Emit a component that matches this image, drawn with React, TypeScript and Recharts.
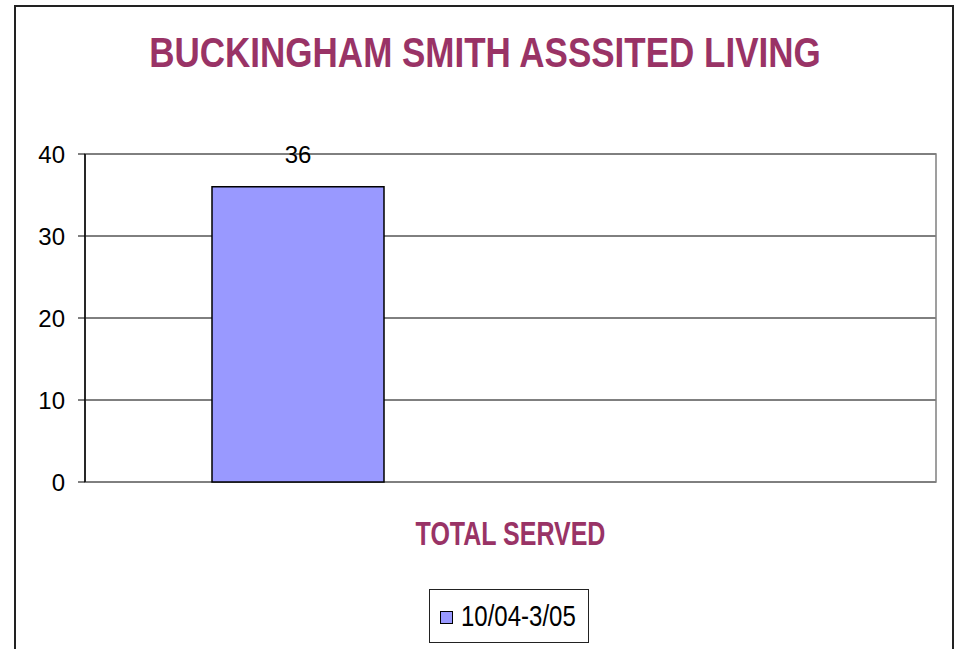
import React from 'react';
import {
  BarChart,
  Bar,
  XAxis,
  YAxis,
  CartesianGrid,
  Legend,
  LabelList,
  ReferenceArea,
} from 'recharts';

const categories = ['1', '2'];
const served = [36, null];
const seriesName = '10/04-3/05';
const axisTitle = 'TOTAL SERVED';
const chartTitle = 'BUCKINGHAM SMITH ASSSITED LIVING';
const yTicks = [0, 10, 20, 30, 40];

const data = categories.map((c, i) => ({ category: c, served: served[i] }));

const FONT = '"Liberation Sans", Arial, sans-serif';
const MAROON = '#993366';
const BAR_FILL = '#9999FF';

const LegendBox = () => (
  <div
    style={{
      boxSizing: 'border-box',
      width: 160,
      height: 54,
      border: '1px solid #222',
      background: '#fff',
      display: 'flex',
      alignItems: 'center',
      paddingLeft: 10,
      fontFamily: FONT,
      fontSize: 24,
      color: '#000',
    }}
  >
    <span
      style={{
        display: 'inline-block',
        width: 13,
        height: 13,
        background: BAR_FILL,
        border: '1px solid #000',
        marginRight: 8,
        marginTop: 3,
        boxSizing: 'border-box',
      }}
    />
    <span style={{ display: 'inline-block', transform: 'scaleY(1.22)', lineHeight: '28px' }}>
      {seriesName}
    </span>
  </div>
);

// stretched category-axis title, like the original export
const AxisTitle = (props: any) => {
  const vb = props.viewBox || {};
  const cx = vb.x + vb.width / 2;
  return (
    <text
      transform={`translate(${cx}, ${vb.y + 63}) scale(1, 1.3)`}
      textAnchor="middle"
      fill={MAROON}
      fontFamily={FONT}
      fontWeight="bold"
      fontSize={25}
    >
      {axisTitle}
    </text>
  );
};

export default function App() {
  return (
    <div
      style={{
        position: 'absolute',
        left: 0,
        top: 0,
        width: 956,
        height: 649,
        overflow: 'hidden',
        background: '#fff',
      }}
    >
      <div
        style={{
          position: 'absolute',
          left: 14,
          top: 5,
          width: 936,
          height: 700,
          border: '2px solid #222',
        }}
      />
      <div
        style={{
          position: 'absolute',
          left: 0,
          width: 970,
          top: 31,
          textAlign: 'center',
          fontFamily: FONT,
          fontWeight: 'bold',
          fontSize: 35,
          color: MAROON,
          lineHeight: '44px',
          transform: 'scaleY(1.2)',
        }}
      >
        {chartTitle}
      </div>
      <div style={{ position: 'absolute', left: 0, top: 0 }}>
        <BarChart
          width={956}
          height={649}
          data={data}
          margin={{ top: 154, right: 20, bottom: 107, left: 15 }}
        >
          <CartesianGrid vertical={false} stroke="#000" strokeWidth={1} />
          <ReferenceArea y1={0} y2={40} fill="none" stroke="#808080" strokeWidth={1.5} />
          <XAxis
            dataKey="category"
            height={60}
            tick={false}
            tickLine={false}
            axisLine={false}
            label={<AxisTitle />}
          />
          <YAxis
            width={70}
            domain={[0, 40]}
            ticks={yTicks}
            interval={0}
            tickSize={7}
            tickMargin={13}
            axisLine={{ stroke: '#000', strokeWidth: 1.5 }}
            tickLine={{ stroke: '#000' }}
            tick={{ fill: '#000', fontFamily: FONT, fontSize: 24 }}
          />
          <Legend
            layout="horizontal"
            verticalAlign="middle"
            align="center"
            content={() => <LegendBox />}
            wrapperStyle={{ position: 'absolute', left: 429, top: 589, width: 160, height: 54 }}
          />
          <Bar
            dataKey="served"
            name={seriesName}
            fill={BAR_FILL}
            stroke="#000"
            strokeWidth={1.5}
            barSize={172}
            isAnimationActive={false}
          >
            <LabelList
              dataKey="served"
              position="top"
              offset={24}
              fill="#000"
              fontFamily={FONT}
              fontSize={24}
            />
          </Bar>
        </BarChart>
      </div>
    </div>
  );
}
